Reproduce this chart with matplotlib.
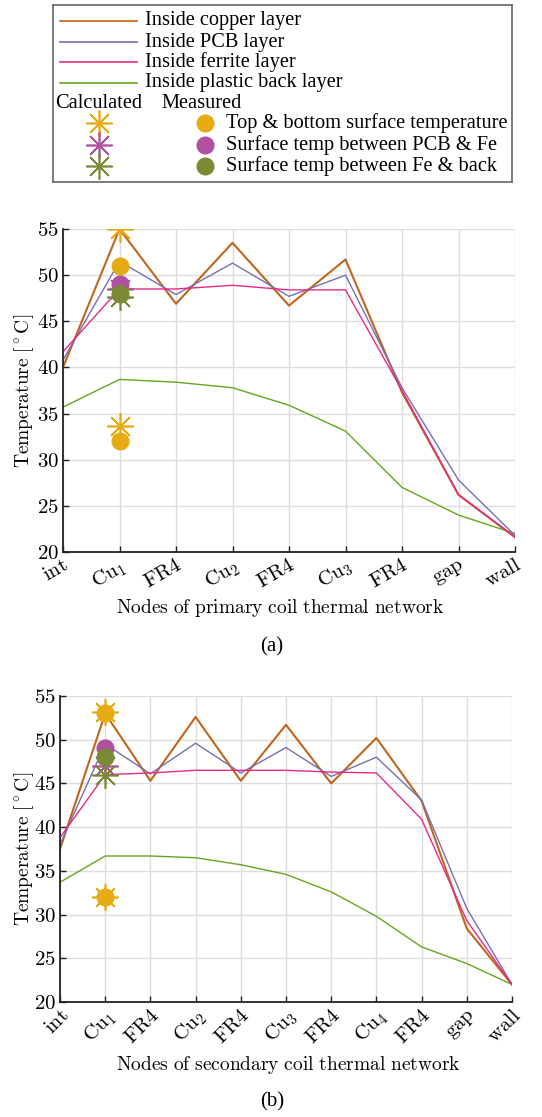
import numpy as np
import matplotlib.pyplot as plt
from matplotlib.lines import Line2D

plt.rcParams['mathtext.fontset'] = 'cm'
plt.rcParams['font.family'] = ['Liberation Serif', 'DejaVu Serif']

# primary coil (a)
nodes_a = [r'$\mathrm{int}$', r'$\mathrm{Cu}_1$', r'$\mathrm{FR4}$', r'$\mathrm{Cu}_2$', r'$\mathrm{FR4}$',
           r'$\mathrm{Cu}_3$', r'$\mathrm{FR4}$', r'$\mathrm{gap}$', r'$\mathrm{wall}$']
copper_a = [40.0, 55.0, 46.9, 53.5, 46.7, 51.7, 37.3, 26.2, 21.6]
pcb_a = [40.8, 51.5, 47.9, 51.3, 47.7, 50.0, 37.8, 27.8, 21.8]
ferrite_a = [41.7, 48.5, 48.5, 48.9, 48.4, 48.4, 37.5, 26.2, 21.6]
plastic_a = [35.7, 38.7, 38.4, 37.8, 35.9, 33.1, 27.0, 24.0, 22.0]
calc_top_a = [55.0, 33.6]
meas_top_a = [51.0, 32.0]
calc_pcbfe_a = [48.5]
meas_pcbfe_a = [49.0]
calc_feback_a = [47.6]
meas_feback_a = [48.0]

# secondary coil (b)
nodes_b = [r'$\mathrm{int}$', r'$\mathrm{Cu}_1$', r'$\mathrm{FR4}$', r'$\mathrm{Cu}_2$', r'$\mathrm{FR4}$',
           r'$\mathrm{Cu}_3$', r'$\mathrm{FR4}$', r'$\mathrm{Cu}_4$', r'$\mathrm{FR4}$', r'$\mathrm{gap}$',
           r'$\mathrm{wall}$']
copper_b = [37.5, 53.0, 45.3, 52.6, 45.3, 51.7, 45.0, 50.2, 43.0, 28.4, 22.0]
pcb_b = [38.0, 49.5, 46.1, 49.6, 46.2, 49.1, 45.8, 48.0, 43.1, 30.7, 22.0]
ferrite_b = [38.8, 46.0, 46.2, 46.5, 46.5, 46.5, 46.3, 46.2, 40.9, 29.3, 22.0]
plastic_b = [33.7, 36.7, 36.7, 36.5, 35.7, 34.6, 32.6, 29.8, 26.3, 24.4, 22.0]
calc_top_b = [53.2, 32.0]
meas_top_b = [53.0, 32.0]
calc_pcbfe_b = [47.0]
meas_pcbfe_b = [49.0]
calc_feback_b = [46.0]
meas_feback_b = [48.0]

c_cu = '#c0651c'
c_pcb = '#7570b3'
c_fe = '#e7298a'
c_pl = '#66a61e'
c_y = '#e6ab12'
c_m = '#b0509e'
c_o = '#7b8b35'
star = (8, 2, 0)

W, H = 542, 1117
fig = plt.figure(figsize=(W / 100, H / 100), dpi=100)


def box(l, t, r, b):
    return [l / W, 1 - b / H, (r - l) / W, (b - t) / H]


def panel(rect, nodes, cu, pcb, fe, pl, ct, mt, cp, mp, cf, mf, rot, xlabel, ylx, xlx, xly):
    ax = fig.add_axes(rect)
    x = np.arange(len(nodes))
    ax.plot(x, pl, color=c_pl, lw=1)
    ax.plot(x, cu, color=c_cu, lw=1.5)
    ax.plot(x, pcb, color=c_pcb, lw=1)
    ax.plot(x, fe, color=c_fe, lw=1)
    ax.plot([1] * len(ct), ct, ls='none', marker=star, ms=19, mew=1.2, color=c_y)
    ax.plot([1] * len(mt), mt, ls='none', marker='o', ms=12, color=c_y)
    ax.plot([1] * len(cp), cp, ls='none', marker=star, ms=19, mew=1.2, color=c_m)
    ax.plot([1] * len(mp), mp, ls='none', marker='o', ms=12, color=c_m)
    ax.plot([1] * len(cf), cf, ls='none', marker=star, ms=19, mew=1.2, color=c_o)
    ax.plot([1] * len(mf), mf, ls='none', marker='o', ms=12, color=c_o)
    ax.set_xlim(0, len(nodes) - 1)
    ax.set_ylim(20, 55)
    ax.set_xticks(x)
    ax.set_xticklabels(nodes, rotation=rot, ha='right', rotation_mode='anchor', fontsize=15)
    ax.set_yticks(np.arange(20, 56, 5))
    ax.set_yticklabels([r'$%d$' % v for v in range(20, 56, 5)], fontsize=15)
    ax.tick_params(direction='in', length=4, width=1, color='#222222', pad=3)
    ax.grid(True, color='#dddddd', lw=1)
    ax.set_axisbelow(True)
    for s in ['top', 'right']:
        ax.spines[s].set_visible(False)
    for s in ['left', 'bottom']:
        ax.spines[s].set_linewidth(1.3)
        ax.spines[s].set_color('#222222')
    ax.set_xlabel(xlabel, fontsize=14)
    ax.xaxis.set_label_coords(xlx, xly)
    ax.xaxis.label.set_va('center')
    ax.set_ylabel(r'$\mathrm{Temperature}\ [^\circ\mathrm{C}]$', fontsize=14)
    ax.yaxis.set_label_coords(ylx, 0.5)
    ax.yaxis.label.set_va('center')
    return ax


panel(box(63, 229, 515, 552), nodes_a, copper_a, pcb_a, ferrite_a, plastic_a,
      calc_top_a, meas_top_a, calc_pcbfe_a, meas_pcbfe_a, calc_feback_a, meas_feback_a,
      30, r'$\mathrm{Nodes\ of\ primary\ coil\ thermal\ network}$', -0.087, 0.48, -0.173)
panel(box(60, 696, 512, 1002), nodes_b, copper_b, pcb_b, ferrite_b, plastic_b,
      calc_top_b, meas_top_b, calc_pcbfe_b, meas_pcbfe_b, calc_feback_b, meas_feback_b,
      45, r'$\mathrm{Nodes\ of\ secondary\ coil\ thermal\ network}$', -0.08, 0.505, -0.206)

fig.text(272 / W, 1 - 647 / H, '(a)', ha='center', va='center', fontsize=15)
fig.text(272 / W, 1 - 1102 / H, '(b)', ha='center', va='center', fontsize=15)

# legend box drawn in pixel coordinates
lg = fig.add_axes(box(53, 5, 512, 182))
lg.set_xlim(53, 512)
lg.set_ylim(182, 5)
lg.set_xticks([])
lg.set_yticks([])
for s in lg.spines.values():
    s.set_color('#666666')
    s.set_linewidth(1.2)
fs = 14.7
for yy, col, lab in zip([21, 42, 62, 83], [c_cu, c_pcb, c_fe, c_pl],
                        ['Inside copper layer', 'Inside PCB layer', 'Inside ferrite layer',
                         'Inside plastic back layer']):
    lg.add_line(Line2D([60, 137], [yy, yy], color=col, lw=1.2))
    lg.text(145, yy, lab, va='center', ha='left', fontsize=fs)
lg.text(55, 103, 'Calculated', va='center', ha='left', fontsize=fs)
lg.text(161, 103, 'Measured', va='center', ha='left', fontsize=fs)
for yy, col, lab in zip([123, 145, 166], [c_y, c_m, c_o],
                        ['Top & bottom surface temperature', 'Surface temp between PCB & Fe',
                         'Surface temp between Fe & back']):
    lg.add_line(Line2D([99], [yy], marker=star, ms=19, mew=1.2, color=col, ls='none'))
    lg.add_line(Line2D([205], [yy], marker='o', ms=12, color=col, ls='none'))
    lg.text(226, yy, lab, va='center', ha='left', fontsize=fs)

fig.savefig('out.png', dpi=100)
